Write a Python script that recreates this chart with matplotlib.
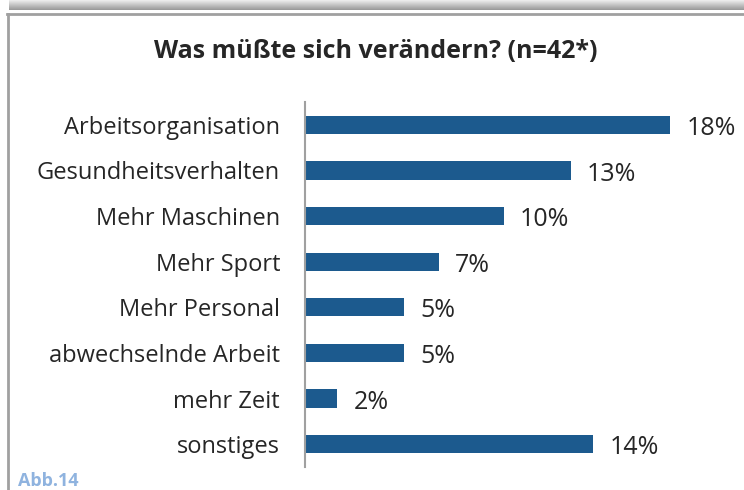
import matplotlib.pyplot as plt
import numpy as np

# data
categories = ['Arbeitsorganisation', 'Gesundheitsverhalten', 'Mehr Maschinen',
              'Mehr Sport', 'Mehr Personal', 'abwechselnde Arbeit',
              'mehr Zeit', 'sonstiges']
values = [18.0, 13.1, 9.8, 6.6, 4.9, 4.9, 1.6, 14.2]
value_labels = ['18%', '13%', '10%', '7%', '5%', '5%', '2%', '14%']

plt.rcParams['font.family'] = ['Open Sans', 'DejaVu Sans']
bar_color = '#1C5A8E'
text_color = '#262626'

fig = plt.figure(figsize=(7.44, 4.90), dpi=100)

# top shadow band and frame
bg = fig.add_axes([0, 0, 1, 1])
bg.set_xlim(0, 744)
bg.set_ylim(490, 0)
bg.axis('off')
grad = np.linspace(0.93, 0.6, 20).reshape(-1, 1)
bg.imshow(grad, cmap='gray', vmin=0, vmax=1, extent=[9, 744, 10, 0], aspect='auto')
bg.plot([7, 744], [14.5, 14.5], color='#a0a0a0', lw=2)
bg.plot([7.5, 7.5], [14, 490], color='#a0a0a0', lw=2)
bg.text(18, 481, 'Abb.14', color='#8fb3df', fontsize=13, fontweight='bold', va='center')

ax = fig.add_axes([305 / 744, 23 / 490, 406 / 744, 365 / 490])
y = np.arange(len(categories))
ax.barh(y, values, height=0.4, color=bar_color)
ax.set_ylim(len(categories) - 0.5, -0.5)
ax.set_xlim(0, 20)
ax.set_yticks(y)
ax.set_yticklabels(categories, fontsize=17, color=text_color)
ax.tick_params(axis='y', length=0, pad=18)
ax.set_xticks([])
for s in ['top', 'right', 'bottom']:
    ax.spines[s].set_visible(False)
ax.spines['left'].set_color('#a0a0a0')
ax.spines['left'].set_linewidth(1.5)

for yi, v, lab in zip(y, values, value_labels):
    ax.text(v + 0.8, yi + 0.08, lab, va='center', ha='left', fontsize=18, color=text_color)

fig.text(376 / 744, 1 - 51 / 490, 'Was müßte sich verändern? (n=42*)',
         ha='center', va='center', fontsize=18, fontweight='bold', color=text_color)

fig.savefig('out.png', dpi=100)
